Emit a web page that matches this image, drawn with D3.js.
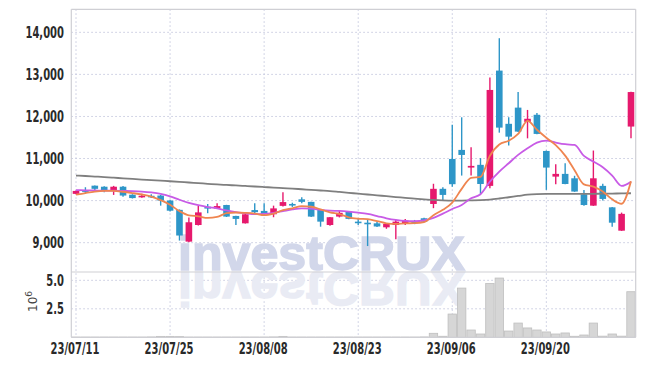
<!DOCTYPE html>
<html><head><meta charset="utf-8">
<script src="https://cdn.jsdelivr.net/npm/d3@7"></script>
<style>body{margin:0;background:#fff}svg{display:block}</style>
</head><body><svg id="c" width="645" height="366"></svg>
<script>
const categories=["23/07/11","23/07/12","23/07/13","23/07/14","23/07/17","23/07/18","23/07/19","23/07/20","23/07/21","23/07/24",
"23/07/25","23/07/26","23/07/27","23/07/28","23/07/31","23/08/01","23/08/02","23/08/03","23/08/04","23/08/07",
"23/08/08","23/08/09","23/08/10","23/08/11","23/08/14","23/08/16","23/08/17","23/08/18","23/08/21","23/08/22",
"23/08/23","23/08/24","23/08/25","23/08/28","23/08/29","23/08/30","23/08/31","23/09/01","23/09/04","23/09/05",
"23/09/06","23/09/07","23/09/08","23/09/11","23/09/12","23/09/13","23/09/14","23/09/15","23/09/18","23/09/19",
"23/09/20","23/09/21","23/09/22","23/09/25","23/09/26","23/09/27","23/10/04","23/10/05","23/10/06","23/10/10"];
const xTickLabels=["23/07/11","23/07/25","23/08/08","23/08/23","23/09/06","23/09/20"];
const priceTicks=[9000,10000,11000,12000,13000,14000];
const volumeTicks=[2.5,5.0];
const opens=[10160,10245,10355,10330,10245,10330,10140,10100,10115,10120,10000,9780,9025,9420,9855,9810,9895,9635,9460,9775,9755,9675,9875,9920,10030,9970,9780,9420,9620,9735,9500,9475,9460,9365,9420,9460,9500,9580,9920,10280,10990,11205,10785,10850,10350,13090,11825,12210,11870,12040,11180,10570,10635,10530,10150,9880,10350,9840,9285,11760];
const highs=[10240,10318,10360,10340,10350,10350,10150,10160,10150,10135,10020,9790,9600,9880,9920,9940,9900,9640,9680,9940,9940,9880,10200,9950,10080,9975,9790,9610,9760,9750,9580,9540,9500,9450,9540,9560,9540,9590,10400,10320,11800,11980,11270,11010,12925,13860,11980,12580,12155,12080,11190,10865,10890,10590,10250,11190,10400,9845,9715,12585];
const lows=[10150,10175,10230,10200,10135,10094,10050,10070,10060,9880,9740,9050,9010,9410,9700,9800,9610,9420,9455,9700,9660,9605,9860,9850,9940,9610,9380,9400,9600,9555,9420,8920,9370,9330,9080,9420,9440,9490,9820,10015,10330,10595,10595,10160,10295,11615,11310,11630,11480,11580,10255,10390,10390,10210,9880,9875,10000,9380,9280,11480];
const closes=[10230,10225,10280,10235,10330,10120,10060,10115,10100,10000,9760,9170,9485,9720,9810,9870,9620,9565,9675,9725,9685,9815,9965,9900,9970,9620,9500,9605,9710,9565,9465,9445,9385,9445,9500,9525,9465,9500,10280,10135,10390,11085,10825,10395,12630,11735,11520,11640,11945,11585,10785,10635,10395,10215,9895,10530,10040,9475,9685,12580];
const volumes=[0.02,0.02,0.02,0.02,0.02,0.02,0.02,0.02,0.03,0.08,0.08,0.06,0.02,0.02,0.02,0.02,0.02,0.02,0.02,0.02,0.02,0.03,0.08,0.02,0.02,0.02,0.02,0.02,0.02,0.02,0.02,0.02,0.02,0.02,0.02,0.02,0.02,0.03,0.35,0.09,2.04,4.32,0.64,0.29,4.73,5.2,0.55,1.25,0.82,0.64,0.47,0.29,0.38,0.09,0.2,1.25,0.1,0.29,0.1,4.0];
const ma5=[10140,10180,10215,10230,10230,10210,10180,10145,10095,10010,9900,9750,9650,9627,9589,9611,9701,9717,9708,9691,9654,9693,9773,9818,9867,9854,9791,9719,9681,9600,9569,9558,9514,9461,9448,9460,9464,9487,9654,9781,9954,10278,10543,10566,11065,11334,11421,11584,11894,11685,11495,11318,11069,10723,10385,10334,10215,10031,9925,10462];
const ma20=[10250,10245,10240,10235,10235,10230,10225,10215,10195,10160,10100,10020,9945,9890,9845,9815,9765,9725,9700,9680,9685,9710,9750,9790,9815,9810,9780,9760,9754,9737,9713,9683,9634,9580,9540,9516,9510,9530,9590,9690,9800,9896,10056,10151,10451,10689,10888,11086,11244,11379,11427,11379,11340,11324,11062,10928,10793,10595,10349,10451];
const ma60=[10595,10585,10572,10560,10545,10530,10515,10500,10487,10473,10460,10445,10430,10415,10400,10385,10372,10360,10348,10335,10322,10310,10297,10285,10270,10255,10240,10225,10205,10185,10165,10145,10125,10105,10085,10065,10045,10030,10015,10005,10000,10000,10005,10012,10025,10050,10080,10110,10140,10155,10160,10160,10160,10160,10160,10162,10165,10168,10170,10175];

const svg=d3.select('#c');
const L=71.3,R=635.7,T=9.3,S=272,B=337.3;
const x=d3.scaleBand().domain(categories).range([L,R]).padding(0);
const cx=d=>x(d)+x.bandwidth()/2;
const y=d3.scaleLinear().domain([8303,14547]).range([S,T]);
const yv=d3.scaleLinear().domain([0,5.73]).range([B,S]);
const font='"DejaVu Sans Condensed","DejaVu Sans",sans-serif';
const grid='#c5c8de';

// gridlines
const g=svg.append('g');
g.selectAll('.hp').data(priceTicks).join('line').attr('x1',L).attr('x2',R).attr('y1',d=>y(d)).attr('y2',d=>y(d))
 .attr('stroke',grid).attr('stroke-dasharray','1.5,2.5');
g.selectAll('.hv').data(volumeTicks).join('line').attr('x1',L).attr('x2',R).attr('y1',d=>yv(d)).attr('y2',d=>yv(d))
 .attr('stroke',grid).attr('stroke-dasharray','1.5,2.5');
g.selectAll('.vx').data(xTickLabels).join('line').attr('x1',d=>cx(d)).attr('x2',d=>cx(d)).attr('y1',T).attr('y2',B)
 .attr('stroke',grid).attr('stroke-dasharray','1.5,2.5');

// watermark
const wm=svg.append('g').attr('font-family','"Liberation Sans","DejaVu Sans",sans-serif').attr('font-weight','bold').attr('font-size',49);
wm.append('text').attr('x',178).attr('y',543-271.5).attr('transform','translate(0,543) scale(1,-1)').attr('textLength',287).attr('lengthAdjust','spacingAndGlyphs')
 .attr('fill','#e9ebf4').attr('stroke','#e9ebf4').attr('stroke-width',1.5).text('investCRUX');
wm.append('text').attr('x',178).attr('y',270).attr('textLength',287).attr('lengthAdjust','spacingAndGlyphs')
 .attr('fill','#d2d7ea').attr('stroke','#d2d7ea').attr('stroke-width',1.5).text('investCRUX');

// volume bars
svg.append('g').selectAll('rect').data(categories).join('rect')
 .attr('x',d=>x(d)+0.5).attr('width',x.bandwidth()-1)
 .attr('y',(d,i)=>yv(volumes[i])).attr('height',(d,i)=>B-yv(volumes[i]))
 .attr('fill','#d6d6d6').attr('stroke','#bfbfbf').attr('stroke-width',0.8);

// candles
const up='#e6196d',down='#2e96c8';
const cg=svg.append('g');
cg.selectAll('line').data(categories).join('line')
 .attr('x1',cx).attr('x2',cx).attr('y1',(d,i)=>y(highs[i])).attr('y2',(d,i)=>y(lows[i]))
 .attr('stroke',(d,i)=>closes[i]>=opens[i]?up:down).attr('stroke-width',1.4);
cg.selectAll('rect').data(categories).join('rect')
 .attr('x',d=>cx(d)-3.3).attr('width',6.6)
 .attr('y',(d,i)=>y(Math.max(opens[i],closes[i])))
 .attr('height',(d,i)=>Math.max(1.6,Math.abs(y(opens[i])-y(closes[i]))))
 .attr('fill',(d,i)=>closes[i]>=opens[i]?up:down);

// moving averages
const line=arr=>d3.line().x((d,i)=>cx(categories[i])).y(d=>y(d)).curve(d3.curveMonotoneX)(arr);
svg.append('path').attr('d',line(ma60)).attr('fill','none').attr('stroke','#7f7f7f').attr('stroke-width',1.8);
svg.append('path').attr('d',line(ma20)).attr('fill','none').attr('stroke','#c85be6').attr('stroke-width',1.8);
svg.append('path').attr('d',line(ma5)).attr('fill','none').attr('stroke','#ef8550').attr('stroke-width',1.8);

// frame
const fr=svg.append('g').attr('stroke','#cfcfd4').attr('stroke-width',1.2);
fr.append('line').attr('x1',L).attr('x2',L).attr('y1',T).attr('y2',B);
fr.append('line').attr('x1',R).attr('x2',R).attr('y1',T).attr('y2',B);
fr.append('line').attr('x1',L).attr('x2',R).attr('y1',T).attr('y2',T);
fr.append('line').attr('x1',L).attr('x2',R).attr('y1',S).attr('y2',S);
fr.append('line').attr('x1',L).attr('x2',R).attr('y1',B).attr('y2',B);

// axis labels (condensed horizontally)
const ax=svg.append('g').attr('font-family',font).attr('font-weight','bold').attr('font-size',15).attr('fill','#2a2a2a');
ax.selectAll('.py').data(priceTicks).join('text').attr('transform',d=>`translate(64,${y(d)}) scale(0.74,1)`).attr('dy','0.36em').attr('text-anchor','end').text(d3.format(','));
ax.selectAll('.vy').data(volumeTicks).join('text').attr('transform',d=>`translate(64,${yv(d)}) scale(0.74,1)`).attr('dy','0.36em').attr('text-anchor','end').text(d3.format('.1f'));
ax.selectAll('.xl').data(xTickLabels).join('text').attr('transform',d=>`translate(${cx(d)-1},354) scale(0.74,1)`).attr('text-anchor','middle').text(d=>d);

const yl=svg.append('text').attr('transform','translate(37,312) rotate(-90)').attr('font-family','"DejaVu Sans",sans-serif').attr('font-size',12).attr('fill','#444');
yl.append('tspan').text('10');
yl.append('tspan').attr('dy',-5).attr('font-size',9).text('6');
</script></body></html>
